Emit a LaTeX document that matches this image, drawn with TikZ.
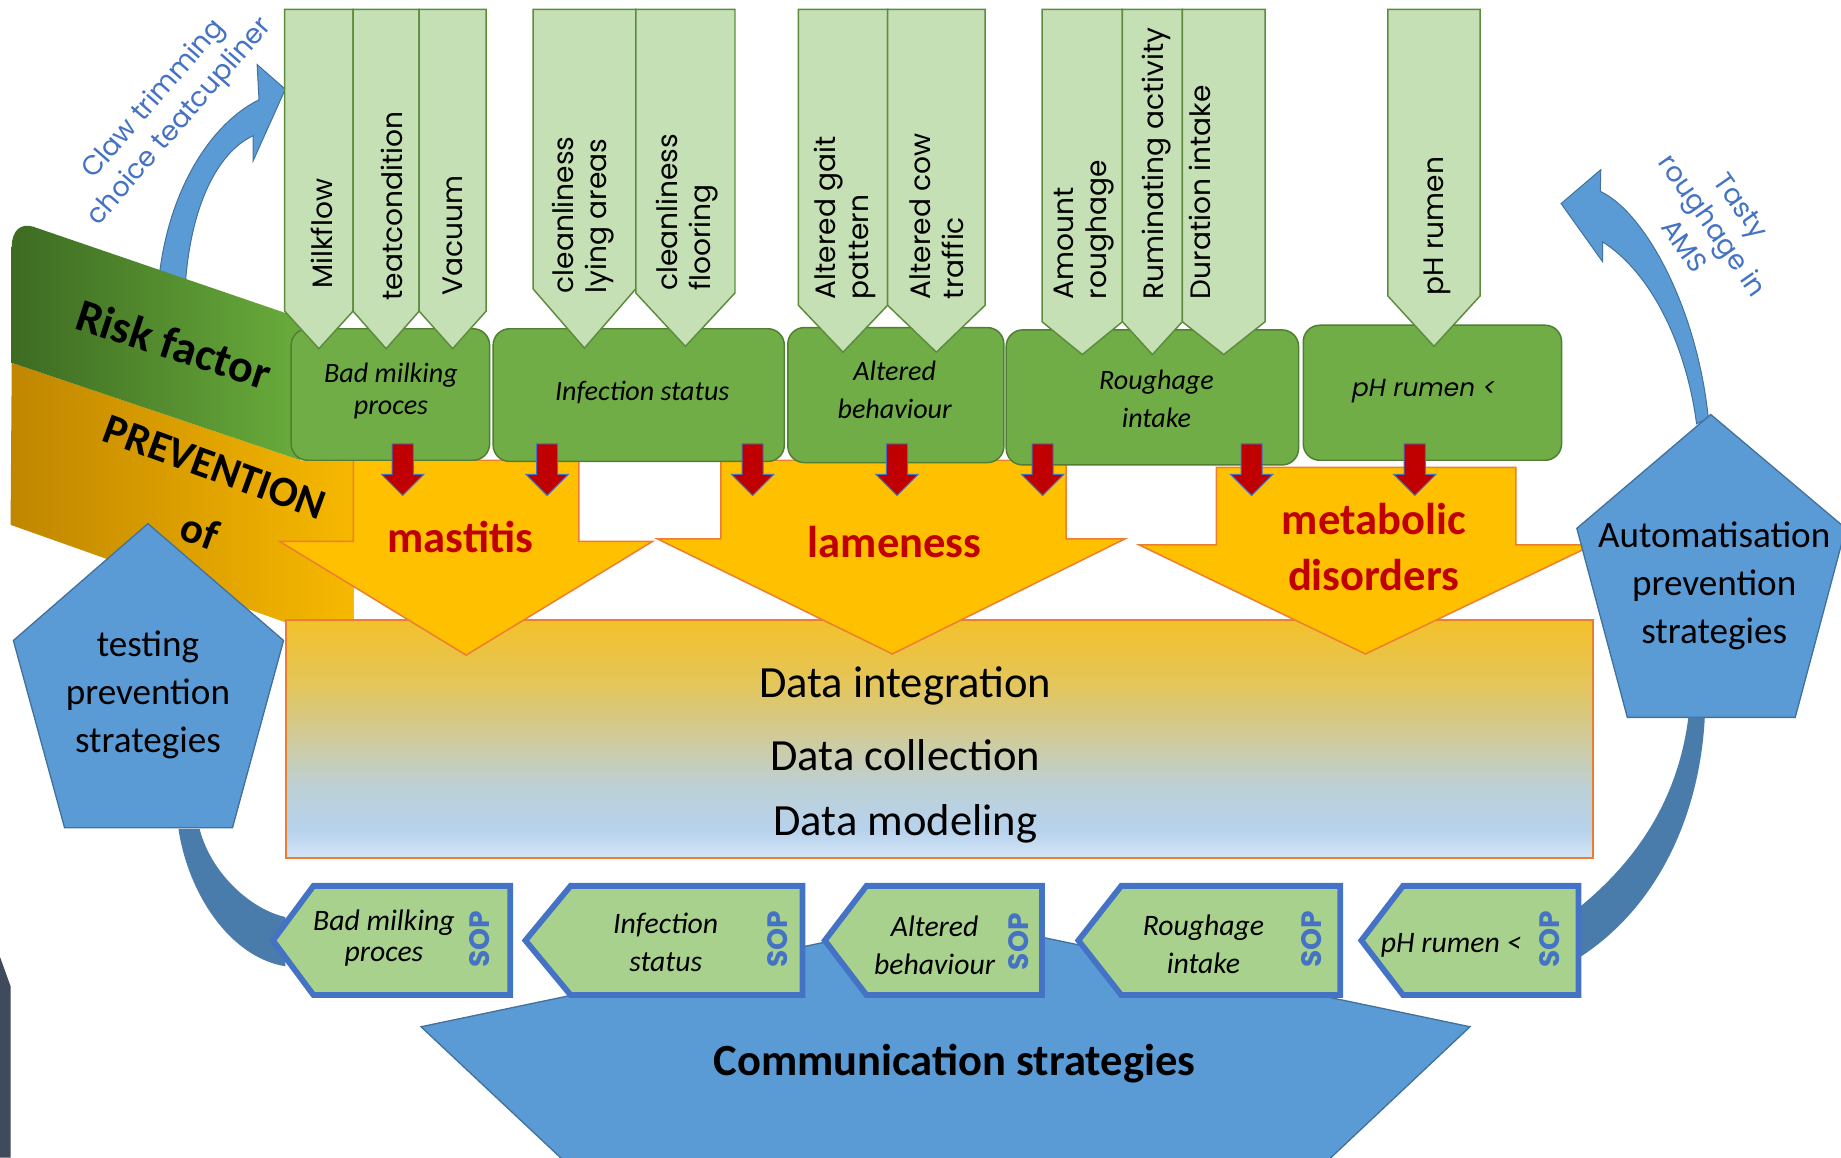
\documentclass[tikz,border=0pt]{standalone}
\usepackage{fontspec}
\setmainfont{Carlito}
\newfontfamily\geo{Poppins}
\definecolor{lgfill}{HTML}{C5E0B4}
\definecolor{lgdraw}{HTML}{5E8C3E}
\definecolor{mgfill}{HTML}{70AD47}
\definecolor{mgdraw}{HTML}{507E32}
\definecolor{yfill}{HTML}{FFC000}
\definecolor{ydraw}{HTML}{ED7D31}
\definecolor{redfill}{HTML}{C00000}
\definecolor{reddraw}{HTML}{4472C4}
\definecolor{textred}{HTML}{C00000}
\definecolor{pblue}{HTML}{5B9BD5}
\definecolor{pbluedraw}{HTML}{41719C}
\definecolor{sopfill}{HTML}{A9D18E}
\definecolor{sopdraw}{HTML}{4472C4}
\definecolor{darkarr}{HTML}{497BAB}
\definecolor{slate}{HTML}{3F4A5C}
\definecolor{gL}{HTML}{3D6B22}
\definecolor{gR}{HTML}{69AC3B}
\definecolor{oL}{HTML}{C08600}
\definecolor{oR}{HTML}{F7B800}
\definecolor{dbA}{HTML}{D5E6F6}
\definecolor{dbB}{HTML}{B6D2EC}
\definecolor{dbC}{HTML}{BDD0D6}
\definecolor{dbD}{HTML}{CFCB9C}
\definecolor{dbE}{HTML}{E4C558}
\definecolor{dbF}{HTML}{F3C12B}
\pgfdeclareverticalshading{dbshade}{100bp}{color(0bp)=(dbA); color(25bp)=(dbA); color(31bp)=(dbB); color(40bp)=(dbC); color(50bp)=(dbD); color(62bp)=(dbE); color(75bp)=(dbF); color(100bp)=(dbF)}
\newcommand\lgArrow[4]{\draw[lgarrow] (#1,8) -- (#2,8) -- (#2,#3) -- ({(#1+#2)/2},#4) -- (#1,#3) -- cycle;}
\newcommand\redArrow[1]{\draw[redarrow] ({#1-9},378) -- ({#1+9},378) -- ({#1+9},404) -- ({#1+18},404) -- (#1,422) -- ({#1-18},404) -- ({#1-9},404) -- cycle;}
\newcommand\sopBox[3]{\draw[sopbox] ({#1+2.5},801) -- (#2,754.5) -- ({#3-2.5},754.5) -- ({#3-2.5},847.5) -- (#2,847.5) -- cycle;}
\begin{document}
\begin{tikzpicture}[x=0.025cm,y=-0.025cm,
  lgarrow/.style={fill=lgfill,draw=lgdraw,line width=0.9pt,line join=miter},
  lgtext/.style={rotate=90,anchor=west,inner sep=0pt,align=left,font=\geo\fontsize{17}{20}\selectfont},
  mgbox/.style={fill=mgfill,draw=mgdraw,line width=0.9pt,rounded corners=0.35cm},
  mgtext/.style={align=center,inner sep=0pt,font=\itshape\fontsize{17}{23}\selectfont},
  yarrow/.style={fill=yfill,draw=ydraw,line width=0.9pt,line join=miter},
  redarrow/.style={fill=redfill,draw=reddraw,line width=0.6pt},
  distext/.style={text=textred,align=center,inner sep=0pt,font=\bfseries\fontsize{27}{34}\selectfont},
  datatext/.style={inner sep=0pt,font=\fontsize{27}{32}\selectfont},
  pentshape/.style={fill=pblue,draw=pbluedraw,line width=0.8pt},
  penttext/.style={align=center,inner sep=0pt,font=\fontsize{22.5}{29}\selectfont},
  sopbox/.style={fill=sopfill,draw=sopdraw,line width=3.5pt,line join=miter},
  soptext/.style={align=center,inner sep=0pt,font=\itshape\fontsize{18}{23}\selectfont},
  soplabel/.style={rotate=90,inner sep=0pt,text=sopdraw,font=\geo\bfseries\fontsize{17}{20}\selectfont},
  bluearrow/.style={fill=pblue,draw=pbluedraw,line width=0.6pt},
  darkarrow/.style={fill=darkarr},
  curvetext/.style={align=center,inner sep=0pt,text=sopdraw,font=\geo\fontsize{16.5}{21}\selectfont}]
\useasboundingbox (0,0) rectangle (1568,986);
\clip (0,0) rectangle (1568,986);
% upper curved arrows
\draw[bluearrow] (136,232) .. controls (145,160) and (180,105) .. (220.6,85) -- (219,55) -- (243,76) -- (215.6,137) -- (215.6,115.6) .. controls (185,130) and (163,175) .. (158,240) -- cycle;
\draw[bluearrow] (1455,356) .. controls (1445,260) and (1400,180) .. (1363,163) -- (1363.4,144.5) -- (1329.6,173.4) -- (1365,223) -- (1365,206) .. controls (1410,235) and (1437,300) .. (1445,361) -- cycle;
% ribbon
\shade[left color=oL,right color=oR] (10,309) -- (256,392) -- (301,392) -- (301,530) -- (243,530) -- (9,447) -- cycle;
\shade[left color=gL,right color=gR] (10,309) -- (10,210) .. controls (10,196) and (18,190) .. (28,193) -- (256,271) -- (256,392) -- cycle;
% data box
\shadedraw[shading=dbshade,draw=ydraw,line width=1.2pt] (244,528) rectangle (1357,731);
% yellow arrows
\draw[yarrow] (301,392) -- (493,392) -- (493,461) -- (556,461) -- (397,558) -- (238,461) -- (301,461) -- cycle;
\draw[yarrow] (614,392) -- (908,392) -- (908,459) -- (958,459) -- (760,557) -- (560,459) -- (614,459) -- cycle;
\draw[yarrow] (1036,398) -- (1291,398) -- (1291,464) -- (1357,464) -- (1163,557) -- (970,464) -- (1036,464) -- cycle;
% green boxes
\draw[mgbox] (248,280) rectangle (417,392);
\draw[mgbox] (420,280) rectangle (668,393);
\draw[mgbox] (671,279) rectangle (855,394);
\draw[mgbox] (857,281) rectangle (1106,396);
\draw[mgbox] (1110,277) rectangle (1330,392);
% light green arrows
\lgArrow{242.5}{300.7}{265}{297}
\lgArrow{300.7}{357}{265}{297}
\lgArrow{357}{414}{265}{297}
\lgArrow{454}{541.5}{246}{296.5}
\lgArrow{541.5}{626}{249.5}{295}
\lgArrow{680}{756}{260}{300}
\lgArrow{756}{839}{260}{300}
\lgArrow{887.5}{956}{274}{302}
\lgArrow{956}{1007}{274}{302}
\lgArrow{1007}{1077.5}{274}{302}
\lgArrow{1182}{1260.6}{252}{295}
% red arrows
\redArrow{343}\redArrow{466}\redArrow{641}\redArrow{764}\redArrow{888}\redArrow{1066}\redArrow{1205}
% pentagons
\draw[pentshape] (126,446) -- (241.5,545.5) -- (198,705) -- (55,705) -- (11.4,545.5) -- cycle;
\draw[pentshape] (1457,353) -- (1572,450) -- (1529,611) -- (1386,611) -- (1343,450) -- cycle;
% communication shape
\draw[pentshape] (805,781) -- (1252,874.5) -- (1108,1010) -- (503,1010) -- (358.6,874.5) -- cycle;
% lower curved arrows
\fill[darkarrow] (152,706) .. controls (160,760) and (195,815) .. (243,823) -- (243,781) .. controls (215,775) and (180,745) .. (170,706) -- cycle;
\fill[darkarrow] (1452,611) .. controls (1448,690) and (1415,770) .. (1346,815) -- (1346,772) .. controls (1385,740) and (1428,690) .. (1438,611) -- cycle;
% SOP boxes
\sopBox{230}{267}{437}
\sopBox{445}{486}{686}
\sopBox{700}{738}{890}
\sopBox{916}{955}{1144}
\sopBox{1157}{1195}{1347}
% left dark bar
\fill[slate] (0,815) -- (9,840) -- (9,986) -- (0,986) -- cycle;
% texts: ribbon
\node[rotate=-18,inner sep=0pt,font=\bfseries\fontsize{28}{30}\selectfont] (risk) at (148,293) {Risk factor};
\node[rotate=-20,inner sep=0pt,font=\bfseries\fontsize{26}{28}\selectfont] (prev) at (183,398) {PREVENTION};
\node[rotate=-20,inner sep=0pt,font=\bfseries\fontsize{26}{28}\selectfont] (of) at (170,452) {of};
% curved labels
\node[curvetext,rotate=49] (claw) at (142.5,94.5) {Claw trimming\\choice teatcupliner};
\node[curvetext,rotate=-55] (tasty) at (1459,192) {Tasty\\roughage in\\AMS};
% top arrow texts
\node[lgtext] (t1) at (274.5,246) {Milkflow};
\node[lgtext] (t2) at (334,256) {teatcondition};
\node[lgtext] (t3) at (385.5,252) {Vacuum};
\node[lgtext] (t4) at (497,250) {cleanliness\\lying areas};
\node[lgtext] (t5) at (585,248) {cleanliness\\flooring};
\node[lgtext] (t6) at (720,255) {Altered gait\\pattern};
\node[lgtext] (t7) at (797.5,255) {Altered cow\\traffic};
\node[lgtext] (t8) at (923,255) {Amount\\roughage};
\node[lgtext] (t9) at (985,255) {Ruminating activity};
\node[lgtext] (t10) at (1022,255) {Duration intake};
\node[lgtext] (t11) at (1224,252) {pH rumen};
% green box texts
\node[mgtext,font=\itshape\fontsize{17}{19}\selectfont] (b1) at (333,333) {Bad milking\\proces};
\node[mgtext] (b2) at (547,334) {Infection status};
\node[mgtext] (b3) at (762,332) {Altered\\behaviour};
\node[mgtext] (b4) at (985,340) {Roughage\\intake};
\node[mgtext,font=\geo\itshape\fontsize{15}{18}\selectfont] (b5) at (1213,333) {pH rumen <};
% disease texts
\node[distext] (d1) at (392,457) {mastitis};
\node[distext] (d2) at (762,462) {lameness};
\node[distext] (d3) at (1170,466) {metabolic\\disorders};
% data texts
\node[datatext] (data1) at (771,584) {Data integration};
\node[datatext] (data2) at (771,643) {Data collection};
\node[datatext] (data3) at (771,702) {Data modeling};
% pentagon texts
\node[penttext] (p1) at (126,592) {testing\\prevention\\strategies};
\node[penttext] (p2) at (1460,499) {Automatisation\\prevention\\strategies};
% SOP texts
\node[soptext,font=\itshape\fontsize{18}{19}\selectfont] (s1) at (327,799) {Bad milking\\proces};
\node[soptext] (s2) at (567,803) {Infection\\status};
\node[soptext] (s3) at (796,805) {Altered\\behaviour};
\node[soptext] (s4) at (1025,804) {Roughage\\intake};
\node[soptext] (s5) at (1236,805) {pH rumen <};
\node[soplabel] (l1) at (408.5,800) {SOP};
\node[soplabel] (l2) at (662.7,800) {SOP};
\node[soplabel] (l3) at (867.5,802) {SOP};
\node[soplabel] (l4) at (1116.7,800) {SOP};
\node[soplabel] (l5) at (1320,800) {SOP};
% communication
\node[inner sep=0pt,font=\bfseries\fontsize{27}{30}\selectfont] (comm) at (813,906) {Communication strategies};
\end{tikzpicture}
\end{document}
